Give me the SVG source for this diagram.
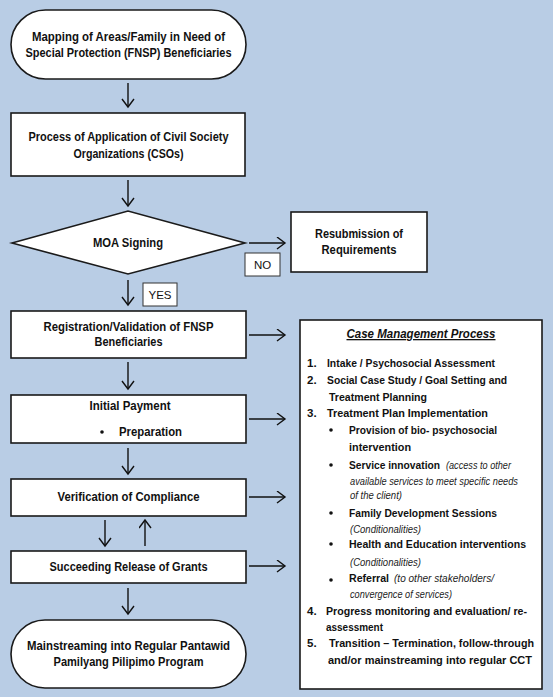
<svg xmlns="http://www.w3.org/2000/svg" width="553" height="697" viewBox="0 0 553 697">
<defs>
<marker id="ah" markerUnits="userSpaceOnUse" markerWidth="12" markerHeight="14" refX="9" refY="6.5" orient="auto">
<path d="M1,0.5 L9,6.5 L1,12.5" fill="none" stroke="#111" stroke-width="1.4"/>
</marker>
<style>
.bg{fill:#b9cde5}
.box{fill:#fff;stroke:#1a1a1a;stroke-width:1.6}
.lbl{fill:#fff;stroke:#333;stroke-width:1}
.t{font-family:"Liberation Sans",Arial,sans-serif;font-weight:bold;font-size:12.5px;fill:#111}
.c{text-anchor:middle}
.s{font-family:"Liberation Sans",Arial,sans-serif;font-weight:bold;font-size:11.5px;fill:#111}
.i{font-family:"Liberation Sans",Arial,sans-serif;font-style:italic;font-size:10px;fill:#222}
.n{font-family:"Liberation Sans",Arial,sans-serif;font-size:11.5px;fill:#111;text-anchor:middle}
.ttl{font-family:"Liberation Sans",Arial,sans-serif;font-weight:bold;font-style:italic;font-size:13px;fill:#111;text-anchor:middle;text-decoration:underline}
.cn line{stroke:#111;stroke-width:1.4;marker-end:url(#ah)}
</style>
</defs>
<rect class="bg" x="0" y="0" width="553" height="697"/>

<g id="connectors" class="cn">
<line x1="128" y1="83" x2="128" y2="107"/>
<line x1="128" y1="180" x2="128" y2="206"/>
<line x1="249" y1="243" x2="285" y2="243"/>
<line x1="128" y1="280" x2="128" y2="305"/>
<line x1="249" y1="335" x2="285" y2="335"/>
<line x1="128" y1="362" x2="128" y2="389"/>
<line x1="249" y1="419" x2="285" y2="419"/>
<line x1="128" y1="448" x2="128" y2="474"/>
<line x1="249" y1="497" x2="285" y2="497"/>
<line x1="105" y1="520" x2="105" y2="546"/>
<line x1="145" y1="546" x2="145" y2="520"/>
<line x1="249" y1="566" x2="285" y2="566"/>
<line x1="128" y1="588" x2="128" y2="614"/>
</g>

<g id="node-mapping">
<rect class="box" x="11" y="10" width="235" height="69" rx="34.5"/>
<text class="t c" x="128.5" y="41" textLength="193" lengthAdjust="spacingAndGlyphs">Mapping of Areas/Family in Need of</text>
<text class="t c" x="128.5" y="57" textLength="206" lengthAdjust="spacingAndGlyphs">Special Protection (FNSP) Beneficiaries</text>
</g>

<g id="node-application">
<rect class="box" x="11" y="113" width="234" height="63"/>
<text class="t c" x="128.5" y="141" textLength="200" lengthAdjust="spacingAndGlyphs">Process of Application of Civil Society</text>
<text class="t c" x="128.5" y="158" textLength="110" lengthAdjust="spacingAndGlyphs">Organizations (CSOs)</text>
</g>

<g id="node-moa">
<polygon class="box" points="12,243 128,211 245,243 128,274"/>
<text class="t c" x="128" y="247" textLength="70" lengthAdjust="spacingAndGlyphs">MOA Signing</text>
</g>

<g id="label-no">
<rect class="lbl" x="245" y="253" width="35" height="23"/>
<text class="n" x="262.5" y="269">NO</text>
</g>

<g id="node-resubmission">
<rect class="box" x="291" y="212" width="136" height="60"/>
<text class="t c" x="359" y="238" textLength="88" lengthAdjust="spacingAndGlyphs">Resubmission of</text>
<text class="t c" x="359" y="254" textLength="75" lengthAdjust="spacingAndGlyphs">Requirements</text>
</g>

<g id="label-yes">
<rect class="lbl" x="143" y="283" width="34" height="23"/>
<text class="n" x="160" y="299">YES</text>
</g>

<g id="node-registration">
<rect class="box" x="11" y="311" width="235" height="47"/>
<text class="t c" x="128.5" y="331" textLength="170" lengthAdjust="spacingAndGlyphs">Registration/Validation of FNSP</text>
<text class="t c" x="128.5" y="346" textLength="68" lengthAdjust="spacingAndGlyphs">Beneficiaries</text>
</g>

<g id="node-initial-payment">
<rect class="box" x="11" y="395" width="235" height="48"/>
<text class="t c" x="130" y="410" textLength="81" lengthAdjust="spacingAndGlyphs">Initial Payment</text>
<circle cx="102" cy="432" r="1.8" fill="#111"/>
<text class="t" x="119" y="436" textLength="63" lengthAdjust="spacingAndGlyphs">Preparation</text>
</g>

<g id="node-verification">
<rect class="box" x="11" y="479" width="235" height="37"/>
<text class="t c" x="128.5" y="501" textLength="142" lengthAdjust="spacingAndGlyphs">Verification of Compliance</text>
</g>

<g id="node-succeeding">
<rect class="box" x="11" y="551" width="235" height="32"/>
<text class="t c" x="128.5" y="571" textLength="158" lengthAdjust="spacingAndGlyphs">Succeeding Release of Grants</text>
</g>

<g id="node-mainstreaming">
<rect class="box" x="11" y="620" width="235" height="68" rx="34"/>
<text class="t c" x="128.5" y="650" textLength="203" lengthAdjust="spacingAndGlyphs">Mainstreaming into Regular Pantawid</text>
<text class="t c" x="128.5" y="666" textLength="150" lengthAdjust="spacingAndGlyphs">Pamilyang Pilipimo Program</text>
</g>

<g id="node-case-management">
<rect class="box" x="300" y="320" width="242" height="369"/>
<text class="ttl" x="421" y="338" textLength="149" lengthAdjust="spacingAndGlyphs">Case Management Process</text>
<text class="s" x="307" y="367">1.</text>
<text class="s" x="327" y="367" textLength="168" lengthAdjust="spacingAndGlyphs">Intake / Psychosocial Assessment</text>
<text class="s" x="307" y="384">2.</text>
<text class="s" x="327" y="384" textLength="180" lengthAdjust="spacingAndGlyphs">Social Case Study / Goal Setting and</text>
<text class="s" x="329" y="401" textLength="98" lengthAdjust="spacingAndGlyphs">Treatment Planning</text>
<text class="s" x="307" y="417">3.</text>
<text class="s" x="327" y="417" textLength="161" lengthAdjust="spacingAndGlyphs">Treatment Plan Implementation</text>
<circle cx="331" cy="430" r="1.8" fill="#111"/>
<text class="s" x="349" y="434" textLength="148" lengthAdjust="spacingAndGlyphs">Provision of bio- psychosocial</text>
<text class="s" x="349" y="451" textLength="62" lengthAdjust="spacingAndGlyphs">intervention</text>
<circle cx="331" cy="465" r="1.8" fill="#111"/>
<text class="s" x="349" y="469" textLength="91" lengthAdjust="spacingAndGlyphs">Service innovation</text>
<text class="i" x="446" y="469" textLength="65" lengthAdjust="spacingAndGlyphs">(access to other</text>
<text class="i" x="350" y="485" textLength="168" lengthAdjust="spacingAndGlyphs">available services to meet specific needs</text>
<text class="i" x="350" y="499" textLength="52" lengthAdjust="spacingAndGlyphs">of the client)</text>
<circle cx="331" cy="513" r="1.8" fill="#111"/>
<text class="s" x="349" y="517" textLength="148" lengthAdjust="spacingAndGlyphs">Family Development Sessions</text>
<text class="i" x="350" y="533" textLength="71" lengthAdjust="spacingAndGlyphs">(Conditionalities)</text>
<circle cx="331" cy="544" r="1.8" fill="#111"/>
<text class="s" x="349" y="548" textLength="177" lengthAdjust="spacingAndGlyphs">Health and Education interventions</text>
<text class="i" x="350" y="566" textLength="71" lengthAdjust="spacingAndGlyphs">(Conditionalities)</text>
<circle cx="331" cy="580" r="1.8" fill="#111"/>
<text class="s" x="349" y="582" textLength="40" lengthAdjust="spacingAndGlyphs">Referral</text>
<text class="i" x="394" y="582" textLength="100" lengthAdjust="spacingAndGlyphs">(to other stakeholders/</text>
<text class="i" x="350" y="598" textLength="102" lengthAdjust="spacingAndGlyphs">convergence of services)</text>
<text class="s" x="307" y="615">4.</text>
<text class="s" x="326" y="615" textLength="201" lengthAdjust="spacingAndGlyphs">Progress monitoring and evaluation/ re-</text>
<text class="s" x="326" y="631" textLength="57" lengthAdjust="spacingAndGlyphs">assessment</text>
<text class="s" x="307" y="647">5.</text>
<text class="s" x="329" y="647" textLength="205" lengthAdjust="spacingAndGlyphs">Transition – Termination, follow-through</text>
<text class="s" x="328" y="664" textLength="204" lengthAdjust="spacingAndGlyphs">and/or mainstreaming into regular CCT</text>
</g>
</svg>
